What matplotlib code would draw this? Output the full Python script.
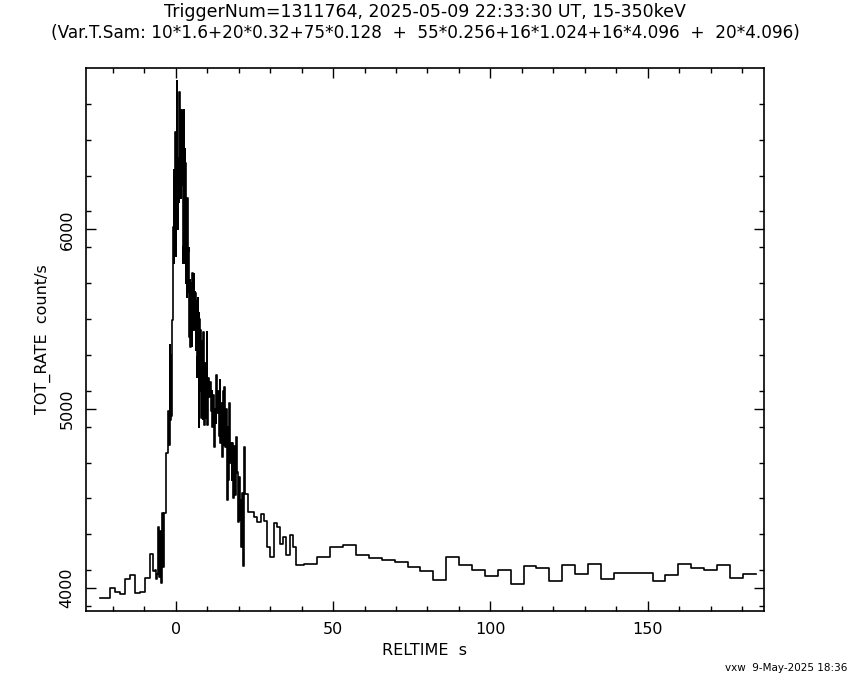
import matplotlib
matplotlib.use("Agg")
import matplotlib.pyplot as plt
import numpy as np

# Variable time sampling (start time [s], bin width [s]) of each block
seg_start = [-24.2, -8.2, -1.8, 7.8, 21.88, 36.8]
seg_width = [1.6, 0.32, 0.128, 0.256, 1.024, 4.096]

# Count rates, one list per block
rate_1p6 = [3943, 3943, 4000, 3978, 3965, 4048, 4071, 3970, 3976, 4056]
rate_0p32 = [4190, 4190, 4190, 4095, 4095, 4100, 4050, 4080, 4340, 4060,
             4320, 4030, 4420, 4120, 4418, 4420, 4755, 4755, 4990, 4800]
rate_0p128 = [5355, 4937, 5300, 4960, 5350, 5000, 5495, 5495,
              6013, 6330, 5812, 6200, 5900, 6545, 5850, 6330, 6100,
              6828, 6200, 6400, 6000, 6300, 6150, 6766,
              6666, 6300, 6666, 6175, 6600, 6250, 6666, 5812, 6500, 5900, 6666, 5850, 6450, 5812,
              6370, 5700, 6000, 5885, 5623, 6175, 5650, 5880, 5700,
              5896, 5400, 5717, 5345, 5650, 5400, 5700, 5350,
              5757, 5440, 5700, 5500, 5750, 5439, 5650, 5450,
              5645, 5327, 5600, 5177, 5550, 5290, 5620, 5200, 5533, 4900, 5500, 5100]
rate_0p256 = [5440, 4950, 5380, 4940, 5428, 4909, 5255, 4950, 5428, 4909,
              5170, 5065, 5150, 4990, 5100, 4900, 5076, 4788, 5000,
              4920, 5188, 4976, 5100, 4850, 5160, 4810, 5032, 4732, 5100,
              4800, 5120, 4786, 5000, 4491, 4900, 4600, 5032, 4700,
              4810, 4600, 4810, 4500, 4790, 4520, 4842, 4640, 4647,
              4370, 4620, 4380, 4490, 4230, 4530, 4123, 4786]
rate_1p024 = [4522, 4426, 4426, 4398, 4370, 4413, 4374, 4231,
              4171, 4361, 4342, 4244, 4286, 4184, 4296, 4231]
rate_4p096 = [4126, 4134, 4175, 4227, 4240, 4182, 4165, 4154, 4145, 4115,
              4095, 4043, 4171, 4128, 4099, 4065, 4099, 4021, 4121, 4110,
              4039, 4126, 4076, 4132, 4048, 4084, 4084, 4084, 4037, 4071,
              4134, 4110, 4099, 4126, 4054, 4076]
seg_rates = [rate_1p6, rate_0p32, rate_0p128, rate_0p256, rate_1p024, rate_4p096]

x_ticks = [0, 50, 100, 150]
y_ticks = [4000, 5000, 6000]

title1 = "TriggerNum=1311764, 2025-05-09 22:33:30 UT, 15-350keV"
title2 = "(Var.T.Sam: 10*1.6+20*0.32+75*0.128  +  55*0.256+16*1.024+16*4.096  +  20*4.096)"

# build histogram-style step line
xs, ys = [], []
prev_end = None
for t0, w, vals in zip(seg_start, seg_width, seg_rates):
    starts = t0 + w * np.arange(len(vals))
    ends = starts + w
    if prev_end is not None:
        starts = np.maximum(starts, prev_end)
    for s, e, v in zip(starts, ends, vals):
        xs += [s, e]
        ys += [v, v]
    prev_end = ends[-1]

fig = plt.figure(figsize=(8.5, 6.8), dpi=100)
ax = fig.add_axes([0.1006, 0.1015, 0.7982, 0.7985])
ax.plot(xs, ys, color="black", linewidth=1.2)

ax.set_xlim(-28.65, 186.9)
ax.set_ylim(3872, 6900)
ax.set_xticks(x_ticks)
ax.set_yticks(y_ticks)
ax.set_xticks(np.arange(-20, 190, 10), minor=True)
ax.set_yticks(np.arange(3900, 6900, 200), minor=True)
ax.tick_params(which="both", direction="in", top=True, right=True, width=1.0)
ax.tick_params(which="major", length=7, labelsize=11.5, pad=8)
ax.tick_params(which="minor", length=3.5)
for lab in ax.get_yticklabels():
    lab.set_rotation(90)
    lab.set_va("center")
for sp in ax.spines.values():
    sp.set_linewidth(1.2)

ax.set_xlabel("RELTIME  s", fontsize=11.5, labelpad=4)
ax.set_ylabel("TOT_RATE  count/s", fontsize=11.5, labelpad=6)

fig.text(0.5, 0.982, title1, ha="center", va="center", fontsize=12.5)
fig.text(0.5, 0.951, title2, ha="center", va="center", fontsize=12.2)
fig.text(0.997, 0.017, "vxw  9-May-2025 18:36", ha="right", va="center", fontsize=7.5)

fig.savefig("out.png", dpi=100)
